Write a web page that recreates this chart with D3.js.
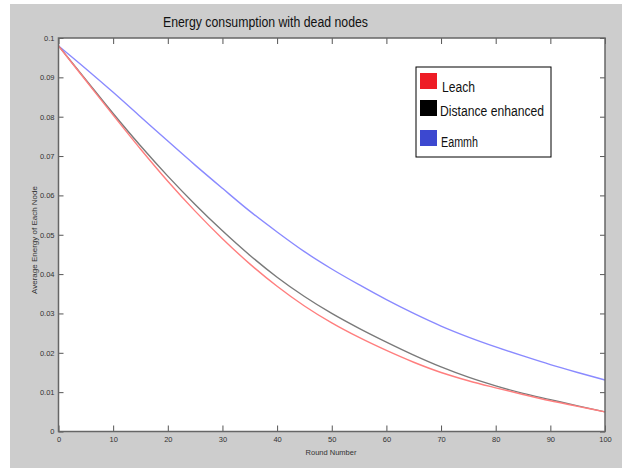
<!DOCTYPE html>
<html>
<head>
<meta charset="utf-8">
<script src="https://cdn.jsdelivr.net/npm/d3@7"></script>
<style>
  body { margin: 0; background: #fff; }
  text { font-family: "Liberation Sans", Arial, sans-serif; }
</style>
</head>
<body>
<svg id="chart" width="622" height="470"></svg>
<script>
// values, every 5 rounds
var rounds = [0, 5, 10, 15, 20, 25, 30, 35, 40, 45, 50, 55, 60, 65, 70, 75, 80, 85, 90, 95, 100];
var leach = [0.098, 0.0892, 0.0804, 0.0718, 0.0636, 0.0560, 0.0490, 0.0426, 0.0369, 0.0319, 0.0276, 0.0239, 0.0206, 0.0176, 0.0150, 0.0129, 0.0111, 0.0094, 0.0078, 0.0064, 0.0050];
var distanceEnhanced = [0.098, 0.0894, 0.0808, 0.0726, 0.0649, 0.0577, 0.0510, 0.0448, 0.0392, 0.0343, 0.0300, 0.0262, 0.0227, 0.0194, 0.0164, 0.0138, 0.0116, 0.0097, 0.0081, 0.0065, 0.0050];
var eammh = [0.098, 0.0922, 0.0862, 0.0800, 0.0738, 0.0677, 0.0618, 0.0560, 0.0507, 0.0457, 0.0413, 0.0373, 0.0335, 0.0300, 0.0268, 0.0240, 0.0215, 0.0192, 0.0170, 0.0150, 0.0131];

var seriesNames = ["Leach", "Distance enhanced", "Eammh"];
var xTicks = [0, 10, 20, 30, 40, 50, 60, 70, 80, 90, 100];
var yTicks = [0, 0.01, 0.02, 0.03, 0.04, 0.05, 0.06, 0.07, 0.08, 0.09, 0.1];
var yTickLabels = ["0", "0.01", "0.02", "0.03", "0.04", "0.05", "0.06", "0.07", "0.08", "0.09", "0.1"];

var svg = d3.select("#chart");

// grey figure background
svg.append("rect")
    .attr("x", 10).attr("y", 4)
    .attr("width", 612).attr("height", 464)
    .style("fill", "#cdcdcd");

var plotLeft = 58.5, plotRight = 605, plotTop = 38, plotBottom = 431.5;

var x = d3.scaleLinear().domain([0, 100]).range([plotLeft, plotRight]);
var y = d3.scaleLinear().domain([0, 0.1]).range([plotBottom, plotTop]);

svg.append("rect")
    .attr("x", plotLeft).attr("y", plotTop)
    .attr("width", plotRight - plotLeft).attr("height", plotBottom - plotTop)
    .style("fill", "#fff");

// lines
var lineGen = d3.line()
    .x(function (d) { return x(d[0]); })
    .y(function (d) { return y(d[1]); })
    .curve(d3.curveMonotoneX);

var lines = [
    { values: eammh, color: "#8a8aff" },
    { values: distanceEnhanced, color: "#7a7a7a" },
    { values: leach, color: "#ff7e7e" }
];
lines.forEach(function (l) {
    svg.append("path")
        .datum(rounds.map(function (r, i) { return [r, l.values[i]]; }))
        .attr("d", lineGen)
        .style("fill", "none")
        .style("stroke", l.color)
        .style("stroke-width", 1.4);
});

// axes
function styleAxis(g) {
    g.select(".domain").remove();
    g.selectAll(".tick line").style("stroke", "#555").style("stroke-width", 1);
    g.selectAll(".tick text").style("fill", "#333").style("font-size", "7.5px");
}

svg.append("g")
    .attr("transform", "translate(0," + plotBottom + ")")
    .call(d3.axisBottom(x).tickValues(xTicks).tickSizeInner(-6).tickSizeOuter(0).tickPadding(5))
    .call(styleAxis);

svg.append("g")
    .attr("transform", "translate(0," + plotTop + ")")
    .call(d3.axisTop(x).tickValues(xTicks).tickSizeInner(-6).tickSizeOuter(0).tickFormat(""))
    .call(styleAxis);

svg.append("g")
    .attr("transform", "translate(" + plotLeft + ",0)")
    .call(d3.axisLeft(y).tickValues(yTicks).tickSizeInner(-5).tickSizeOuter(0).tickPadding(4)
        .tickFormat(function (d, i) { return yTickLabels[i]; }))
    .call(styleAxis);

svg.append("g")
    .attr("transform", "translate(" + plotRight + ",0)")
    .call(d3.axisRight(y).tickValues(yTicks).tickSizeInner(-5).tickSizeOuter(0).tickFormat(""))
    .call(styleAxis);

// box
svg.append("rect")
    .attr("x", plotLeft).attr("y", plotTop)
    .attr("width", plotRight - plotLeft).attr("height", plotBottom - plotTop)
    .style("fill", "none")
    .style("stroke", "#666")
    .style("stroke-width", 1.5);

// titles
svg.append("text")
    .attr("x", 163).attr("y", 27)
    .attr("textLength", 205)
    .attr("lengthAdjust", "spacingAndGlyphs")
    .style("font-size", "14px")
    .style("fill", "#111")
    .text("Energy consumption with dead nodes");

svg.append("text")
    .attr("x", 331).attr("y", 455)
    .attr("text-anchor", "middle")
    .style("font-size", "7.5px")
    .style("fill", "#333")
    .text("Round Number");

svg.append("text")
    .attr("transform", "translate(37,240) rotate(-90)")
    .attr("text-anchor", "middle")
    .style("font-size", "8px")
    .style("fill", "#333")
    .text("Average Energy of Each Node");

// legend
var legend = svg.append("g");
legend.append("rect")
    .attr("x", 416).attr("y", 67)
    .attr("width", 135).attr("height", 90)
    .style("fill", "#fff")
    .style("stroke", "#000")
    .style("stroke-width", 1);

var swatchColors = ["#ee1c25", "#000000", "#3c48d0"];
var legendRows = [
    { sy: 73, tx: 442, ty: 92, len: 33 },
    { sy: 100, tx: 440, ty: 116, len: 104 },
    { sy: 130, tx: 441, ty: 147, len: 37 }
];
seriesNames.forEach(function (name, i) {
    legend.append("rect")
        .attr("x", 420).attr("y", legendRows[i].sy)
        .attr("width", 17).attr("height", 16)
        .style("fill", swatchColors[i]);
    legend.append("text")
        .attr("x", legendRows[i].tx).attr("y", legendRows[i].ty)
        .attr("textLength", legendRows[i].len)
        .attr("lengthAdjust", "spacingAndGlyphs")
        .style("font-size", "14px")
        .style("fill", "#111")
        .text(name);
});
</script>
</body>
</html>
